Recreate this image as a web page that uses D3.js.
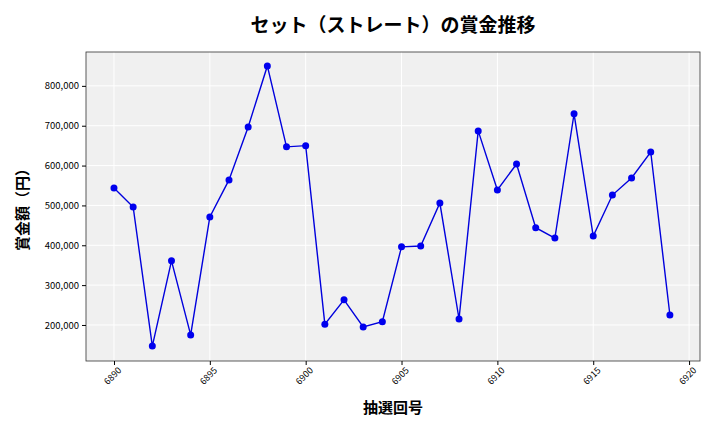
<!DOCTYPE html>
<html><head><meta charset="utf-8">
<script src="https://cdn.jsdelivr.net/npm/d3@7"></script>
<style>body{margin:0;background:#fff}text{font-family:"Noto Sans CJK JP","DejaVu Sans",sans-serif}</style>
</head><body><svg id="c" width="720" height="432"></svg>
<script>
const rounds = d3.range(6890, 6920);
const prizes = [544000,496000,147000,361000,175000,471000,564000,697000,850000,647000,650000,202000,263000,195000,208000,396000,398000,506000,215000,687000,539000,604000,444000,418000,730000,423000,526000,569000,634000,225000];
const xTicks = [6890,6895,6900,6905,6910,6915,6920];
const yTicks = [200000,300000,400000,500000,600000,700000,800000];
const svg = d3.select("#c");
const L=86,R=700,T=52,B=361;
const x = d3.scaleLinear().domain([6888.54,6920.57]).range([L,R]);
const y = d3.scaleLinear().domain([109600,885000]).range([B,T]);
svg.append("rect").attr("x",L).attr("y",T).attr("width",R-L).attr("height",B-T).attr("fill","#f0f0f0");
const g=svg.append("g");
xTicks.forEach(t=>g.append("line").attr("x1",x(t)).attr("x2",x(t)).attr("y1",T).attr("y2",B).attr("stroke","#fff").attr("stroke-width",1));
yTicks.forEach(t=>g.append("line").attr("x1",L).attr("x2",R).attr("y1",y(t)).attr("y2",y(t)).attr("stroke","#fff").attr("stroke-width",1));
svg.append("rect").attr("x",L).attr("y",T).attr("width",R-L).attr("height",B-T).attr("fill","none").attr("stroke","#333").attr("stroke-width",0.8);
const xa=svg.append("g").attr("transform",`translate(0,${B})`).call(d3.axisBottom(x).tickValues(xTicks).tickFormat(d3.format("d")).tickSize(4));
xa.select(".domain").remove();
xa.selectAll("text").attr("transform","rotate(-45)").attr("text-anchor","end").attr("dx","-0.2em").attr("dy","0.6em").style("font-size","9px");
const ya=svg.append("g").attr("transform",`translate(${L},0)`).call(d3.axisLeft(y).tickValues(yTicks).tickFormat(d3.format(",")).tickSize(4));
ya.select(".domain").remove();
ya.selectAll("text").style("font-size","9.5px");
const data=rounds.map((r,i)=>[r,prizes[i]]);
svg.append("path").datum(data).attr("d",d3.line().x(d=>x(d[0])).y(d=>y(d[1]))).attr("fill","none").attr("stroke","#0000dd").attr("stroke-width",1.4);
svg.selectAll("circle.p").data(data).enter().append("circle").attr("cx",d=>x(d[0])).attr("cy",d=>y(d[1])).attr("r",3.5).attr("fill","#0000ee");
svg.append("text").attr("x",393).attr("y",32).attr("text-anchor","middle").style("font-size","19px").style("font-weight","bold").text("セット（ストレート）の賞金推移");
svg.append("text").attr("x",393).attr("y",413).attr("text-anchor","middle").style("font-size","15px").style("font-weight","bold").text("抽選回号");
svg.append("text").attr("transform","translate(28,206) rotate(-90)").attr("text-anchor","middle").style("font-size","15px").style("font-weight","bold").text("賞金額（円）");
</script></body></html>
